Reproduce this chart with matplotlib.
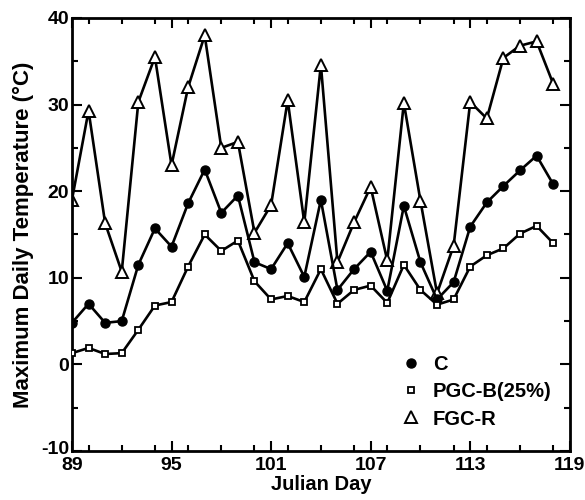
import matplotlib
matplotlib.use("Agg")
import matplotlib.pyplot as plt
from matplotlib.ticker import MultipleLocator
from matplotlib.lines import Line2D
from matplotlib.transforms import ScaledTranslation

days = list(range(89, 119))
c_vals = [4.8, 7.0, 4.8, 5.0, 11.5, 15.7, 13.6, 18.6, 22.5, 17.5,
          19.5, 11.8, 11.0, 14.0, 10.1, 19.0, 8.6, 11.0, 13.0, 8.5,
          18.3, 11.8, 7.5, 9.5, 15.9, 18.7, 20.6, 22.4, 24.1, 20.8]
pgc_vals = [1.3, 1.9, 1.2, 1.3, 4.0, 6.8, 7.2, 11.3, 15.0, 13.1,
            14.3, 9.6, 7.5, 7.9, 7.2, 11.0, 7.0, 8.6, 9.1, 7.1,
            11.5, 8.6, 6.9, 7.5, 11.3, 12.6, 13.4, 15.1, 16.0, 14.0]
fgc_vals = [19.0, 29.3, 16.3, 10.7, 30.3, 35.5, 23.0, 32.0, 38.0, 25.0,
            25.7, 15.2, 18.4, 30.5, 16.4, 34.6, 11.8, 16.4, 20.5, 12.0,
            30.2, 18.9, 8.2, 13.7, 30.3, 28.4, 35.4, 36.8, 37.3, 32.4]
labels = ["C", "PGC-B(25%)", "FGC-R"]
xticks = [89, 95, 101, 107, 113, 119]
yticks = [-10, 0, 10, 20, 30, 40]

plt.rcParams['font.family'] = ['Liberation Sans', 'DejaVu Sans']
plt.rcParams['axes.unicode_minus'] = False
fig = plt.figure(figsize=(5.85, 5.0), dpi=100)
ax = fig.add_axes([0.123, 0.098, 0.851, 0.866])

lw = 1.9
ax.plot(days, fgc_vals, '-', color='black', lw=lw, marker='^', ms=8,
        mfc='white', mec='black', mew=1.4, zorder=2)
ax.plot(days, c_vals, '-', color='black', lw=lw, marker='o', ms=6.5,
        mfc='black', mec='black', zorder=3)
ax.plot(days, pgc_vals, '-', color='black', lw=lw, marker='s', ms=5,
        mfc='white', mec='black', mew=1.3, zorder=4)

ax.set_xlim(89, 119)
ax.set_ylim(-10, 40)
ax.set_xticks(xticks)
ax.set_yticks(yticks)
ax.xaxis.set_minor_locator(MultipleLocator(2))
ax.yaxis.set_minor_locator(MultipleLocator(5))
ax.tick_params(which='both', direction='in', top=True, right=True,
               width=1.5, labelsize=14)
ax.tick_params(axis='x', which='both', pad=4)
ax.tick_params(axis='y', which='both', pad=2)
ax.tick_params(which='major', length=7)
ax.tick_params(which='minor', length=4)
for lab in ax.get_xticklabels() + ax.get_yticklabels():
    lab.set_fontweight('bold')
for s in ax.spines.values():
    s.set_linewidth(2)

# lift the lowest y label slightly, as in the reference
lowtick = ax.yaxis.get_major_ticks()[0]
lowtick.label1.set_transform(lowtick.label1.get_transform() +
                             ScaledTranslation(0, 4 / 100, fig.dpi_scale_trans))

ax.set_xlabel("Julian Day", fontsize=14.5, fontweight='bold', labelpad=1)
ax.set_ylabel("Maximum Daily Temperature (\u00b0C)", fontsize=16,
              fontweight='bold', labelpad=5)

h2 = [Line2D([], [], ls='none', marker='o', ms=6.5, mfc='black', mec='black'),
      Line2D([], [], ls='none', marker='s', ms=5, mfc='white', mec='black', mew=1.3),
      Line2D([], [], ls='none', marker='^', ms=8, mfc='white', mec='black', mew=1.4)]
leg = ax.legend(h2, labels, loc='lower right', bbox_to_anchor=(1.0, 0.01),
                frameon=False, fontsize=14.5, handlelength=1.0,
                handletextpad=0.6, labelspacing=0.4)
for t in leg.get_texts():
    t.set_fontweight('bold')

fig.savefig("out.png", dpi=100)
